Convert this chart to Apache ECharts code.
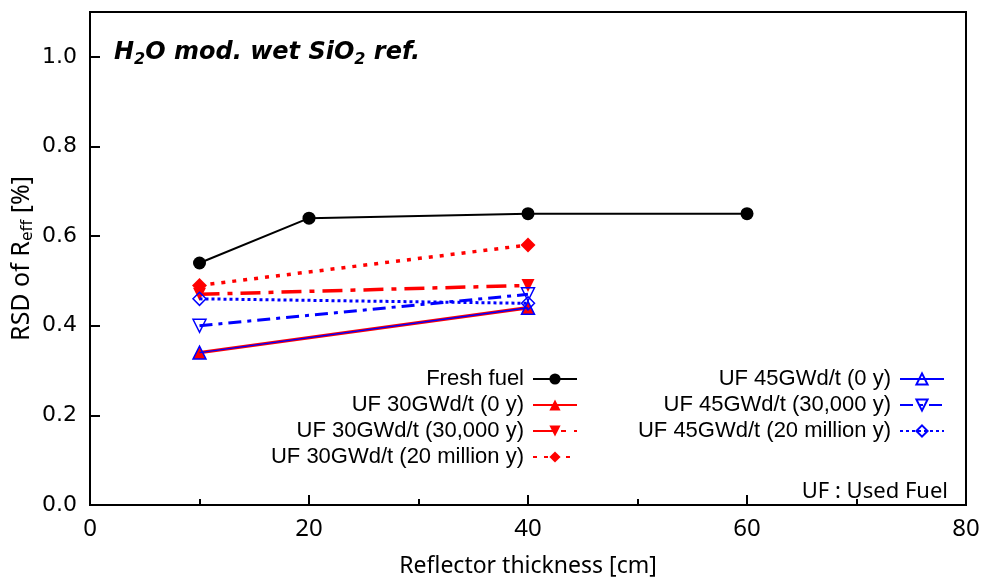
<!DOCTYPE html>
<html>
<head>
<meta charset="utf-8">
<script src="https://cdn.jsdelivr.net/npm/echarts@6/dist/echarts.min.js"></script>
<style>
  html, body { margin: 0; padding: 0; background: #fff; }
  #chart { width: 987px; height: 583px; }
</style>
</head>
<body>
<div id="chart"></div>
<script>
// Reflector thickness [cm] at which each case was computed
const thicknessFresh = [10, 20, 40, 60];
const thicknessUF = [10, 40];

// RSD of R_eff [%]
const freshFuel   = [0.54, 0.64, 0.65, 0.65];
const uf30_0y     = [0.34, 0.44];
const uf30_30ky   = [0.47, 0.49];
const uf30_20My   = [0.49, 0.58];
const uf45_0y     = [0.34, 0.44];
const uf45_30ky   = [0.40, 0.47];
const uf45_20My   = [0.46, 0.45];

const seriesNames = [
  'Fresh fuel',
  'UF 30GWd/t (0 y)',
  'UF 30GWd/t (30,000 y)',
  'UF 30GWd/t (20 million y)',
  'UF 45GWd/t (0 y)',
  'UF 45GWd/t (30,000 y)',
  'UF 45GWd/t (20 million y)'
];

const yTicks = [0, 0.2, 0.4, 0.6, 0.8, 1.0];
const xTicks = [0, 20, 40, 60, 80];

const pairs = (xs, ys) => xs.map((x, i) => [x, ys[i]]);

const RED = '#ff0000';
const BLUE = '#0000ff';
const OPEN = 'rgba(255,255,255,0)';
const SANS = 'Noto Sans, Open Sans, sans-serif';

const chart = echarts.init(document.getElementById('chart'));

// One legend block per entry so every row can be right-aligned on its icon
const legendRows = [
  { name: seriesNames[0], right: 409, top: 368 },
  { name: seriesNames[1], right: 409, top: 394 },
  { name: seriesNames[2], right: 409, top: 420 },
  { name: seriesNames[3], right: 409, top: 446 },
  { name: seriesNames[4], right: 42, top: 368 },
  { name: seriesNames[5], right: 42, top: 394 },
  { name: seriesNames[6], right: 42, top: 420 }
];

const option = {
  animation: false,
  backgroundColor: '#fff',
  title: [
    {
      text: '{n|H}{s|2}{n|O mod. wet SiO}{s|2}{n| ref.}',
      left: 114,
      top: 37,
      padding: 0,
      textStyle: {
        rich: {
          n: { fontFamily: 'DejaVu Sans', fontStyle: 'italic', fontWeight: 'bold', fontSize: 24, color: '#000', lineHeight: 32 },
          s: { fontFamily: 'DejaVu Sans', fontStyle: 'italic', fontWeight: 'bold', fontSize: 16, color: '#000', lineHeight: 32, padding: [14, 0, 0, 0] }
        }
      }
    },
    {
      text: 'UF : Used Fuel',
      right: 39,
      top: 481,
      padding: 0,
      textStyle: { fontFamily: SANS, fontWeight: 'normal', fontSize: 22, color: '#000' }
    }
  ],
  legend: legendRows.map(r => ({
    data: [r.name],
    orient: 'vertical',
    align: 'right',
    right: r.right,
    top: r.top,
    padding: 0,
    itemWidth: 44,
    itemHeight: 14,
    selectedMode: false,
    textStyle: { fontFamily: 'Liberation Sans, Arial, sans-serif', fontSize: 22, color: '#000', padding: [0, 4, 0, 0] }
  })),
  grid: {
    left: 90,
    right: 21,
    top: 12,
    bottom: 78,
    outerBoundsMode: 'none',
    containLabel: false,
    show: true,
    borderColor: '#000',
    borderWidth: 2,
    backgroundColor: 'transparent'
  },
  xAxis: {
    type: 'value',
    min: xTicks[0],
    max: xTicks[xTicks.length - 1],
    interval: 20,
    name: 'Reflector thickness [cm]',
    nameLocation: 'middle',
    nameGap: 50,
    nameMoveOverlap: false,
    nameTextStyle: { fontFamily: SANS, fontSize: 23, color: '#000' },
    axisLine: { show: true, lineStyle: { color: '#000', width: 2 } },
    axisTick: { show: true, inside: true, length: 10, lineStyle: { color: '#000', width: 2 } },
    minorTick: { show: true, splitNumber: 2, length: 6, lineStyle: { color: '#000', width: 2 } },
    axisLabel: { margin: 12, fontFamily: SANS, fontSize: 24, color: '#000' },
    splitLine: { show: false }
  },
  yAxis: {
    type: 'value',
    min: yTicks[0],
    max: 1.1,
    interval: 0.2,
    name: '{a|RSD of R}{b|eff}{a| [%]}',
    nameLocation: 'middle',
    nameGap: 53,
    nameMoveOverlap: false,
    nameTextStyle: {
      rich: {
        a: { fontFamily: SANS, fontSize: 25, color: '#000', lineHeight: 30 },
        b: { fontFamily: SANS, fontSize: 17, color: '#000', lineHeight: 30, padding: [11, 0, 0, 0] }
      }
    },
    axisLine: { show: true, lineStyle: { color: '#000', width: 2 } },
    axisTick: { show: true, inside: true, length: 10, lineStyle: { color: '#000', width: 2 } },
    axisLabel: {
      margin: 13,
      fontFamily: 'DejaVu Sans, Verdana, sans-serif',
      fontSize: 22,
      color: '#000',
      showMaxLabel: false,
      formatter: v => (yTicks.some(t => Math.abs(t - v) < 1e-9) ? v.toFixed(1) : '')
    },
    splitLine: { show: false }
  },
  series: [
    {
      name: seriesNames[0],
      type: 'line',
      data: pairs(thicknessFresh, freshFuel),
      symbol: 'circle',
      symbolSize: 13,
      itemStyle: { color: '#000' },
      lineStyle: { color: '#000', width: 2 },
      z: 3
    },
    {
      name: seriesNames[1],
      type: 'line',
      data: pairs(thicknessUF, uf30_0y),
      symbol: 'triangle',
      symbolSize: 13,
      itemStyle: { color: RED },
      lineStyle: { color: RED, width: 3.5 },
      z: 2
    },
    {
      name: seriesNames[2],
      type: 'line',
      data: pairs(thicknessUF, uf30_30ky),
      symbol: 'triangle',
      symbolRotate: 180,
      symbolSize: 13,
      itemStyle: { color: RED },
      lineStyle: { color: RED, width: 3.5, type: [20, 8, 5, 8] },
      z: 2
    },
    {
      name: seriesNames[3],
      type: 'line',
      data: pairs(thicknessUF, uf30_20My),
      symbol: 'diamond',
      symbolSize: 15,
      itemStyle: { color: RED },
      lineStyle: { color: RED, width: 3.5, type: [4, 7] },
      z: 2
    },
    {
      name: seriesNames[4],
      type: 'line',
      data: pairs(thicknessUF, uf45_0y),
      symbol: 'triangle',
      symbolSize: 13,
      itemStyle: { color: OPEN, borderColor: BLUE, borderWidth: 1.5 },
      lineStyle: { color: BLUE, width: 1.5 },
      z: 4
    },
    {
      name: seriesNames[5],
      type: 'line',
      data: pairs(thicknessUF, uf45_30ky),
      symbol: 'triangle',
      symbolRotate: 180,
      symbolSize: 13,
      itemStyle: { color: OPEN, borderColor: BLUE, borderWidth: 1.5 },
      lineStyle: { color: BLUE, width: 3, type: [13, 6, 4, 6] },
      z: 4
    },
    {
      name: seriesNames[6],
      type: 'line',
      data: pairs(thicknessUF, uf45_20My),
      symbol: 'diamond',
      symbolSize: 13,
      itemStyle: { color: OPEN, borderColor: BLUE, borderWidth: 1.5 },
      lineStyle: { color: BLUE, width: 3, type: [3, 3] },
      z: 4
    }
  ]
};

chart.setOption(option);
</script>
</body>
</html>
